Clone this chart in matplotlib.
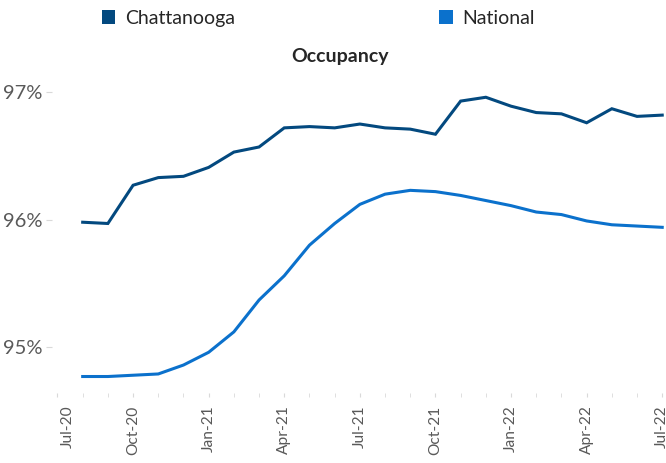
import matplotlib
matplotlib.use("Agg")
import matplotlib.pyplot as plt
import matplotlib.transforms as mtransforms
from matplotlib.patches import Patch
import numpy as np

# monthly occupancy, Aug-20 .. Jul-22
months = ['Aug-20', 'Sep-20', 'Oct-20', 'Nov-20', 'Dec-20', 'Jan-21', 'Feb-21', 'Mar-21',
          'Apr-21', 'May-21', 'Jun-21', 'Jul-21', 'Aug-21', 'Sep-21', 'Oct-21', 'Nov-21',
          'Dec-21', 'Jan-22', 'Feb-22', 'Mar-22', 'Apr-22', 'May-22', 'Jun-22', 'Jul-22']
chattanooga = [95.98, 95.97, 96.27, 96.33, 96.34, 96.41, 96.53, 96.57,
               96.72, 96.73, 96.72, 96.75, 96.72, 96.71, 96.67, 96.93,
               96.96, 96.89, 96.84, 96.83, 96.76, 96.87, 96.81, 96.82]
national = [94.77, 94.77, 94.78, 94.79, 94.86, 94.96, 95.12, 95.37,
            95.56, 95.80, 95.97, 96.12, 96.20, 96.23, 96.22, 96.19,
            96.15, 96.11, 96.06, 96.04, 95.99, 95.96, 95.95, 95.94]
tick_labels = ['Jul-20', 'Oct-20', 'Jan-21', 'Apr-21', 'Jul-21', 'Oct-21', 'Jan-22', 'Apr-22', 'Jul-22']
y_ticks = [95, 96, 97]

c_dark = '#03497f'
c_light = '#0b71cc'
grey = '#595959'
font = ['Lato', 'DejaVu Sans']
plt.rcParams['font.family'] = font

fig = plt.figure(figsize=(6.66, 4.63), dpi=100)
ax = fig.add_axes([0.078, 0.151, 0.922, 0.683])

x = np.arange(1, len(months) + 1)
ax.plot(x, chattanooga, color=c_dark, lw=2.2, solid_joinstyle='miter')
ax.plot(x, national, color=c_light, lw=2.2, solid_joinstyle='miter')

ax.set_xlim(-0.22, 24.15)
ax.set_ylim(94.64, 97.12)

ax.set_xticks(np.arange(0, 25, 3))
ax.set_xticklabels(tick_labels, rotation=90, fontsize=11.2, color=grey)
ax.set_xticks(np.arange(0, 25), minor=True)
ax.tick_params(axis='x', which='both', length=3, color='#d9d9d9', pad=6)

ax.set_yticks(y_ticks)
ax.set_yticklabels(['%d%%' % v for v in y_ticks], fontsize=14.5, color=grey)
ax.tick_params(axis='y', length=4, color='#d9d9d9', pad=3)

for s in ax.spines.values():
    s.set_visible(False)

# first label sits a bit right of its tick in the original
first = ax.get_xticklabels()[0]
first.set_transform(first.get_transform() + mtransforms.ScaledTranslation(10 / 100, 0, fig.dpi_scale_trans))

fig.text(0.511, 0.877, 'Occupancy', ha='center', va='center', fontsize=14,
         fontweight='bold', color='#262626')

handles = [Patch(facecolor=c_dark, edgecolor='none'), Patch(facecolor=c_light, edgecolor='none')]
fig.legend(handles, ['Chattanooga', 'National'], loc='center', bbox_to_anchor=(0.478, 0.961),
           ncol=2, frameon=False, fontsize=14, labelcolor='#262626', handlelength=0.7,
           handleheight=0.7, handletextpad=0.5, columnspacing=10.5)

fig.savefig('out.png', dpi=100)
